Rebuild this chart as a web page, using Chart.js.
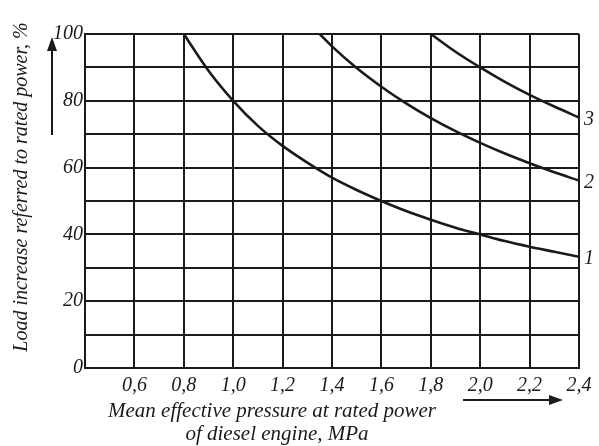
<!DOCTYPE html>
<html>
<head>
<meta charset="utf-8">
<script src="https://cdn.jsdelivr.net/npm/chart.js@4.4.1/dist/chart.umd.min.js"></script>
<style>
  html, body { margin: 0; padding: 0; background: #fff; }
  #wrap { width: 599px; height: 446px; }
</style>
</head>
<body>
<div id="wrap"><canvas id="chart" width="599" height="446"></canvas></div>
<script>
// curve 1
const pressure1 = [0.8, 0.9, 1.0, 1.1, 1.2, 1.3, 1.4, 1.5, 1.6, 1.7, 1.8, 1.9, 2.0, 2.1, 2.2, 2.3, 2.4];
const load1 = [100, 89, 80, 72.5, 66.5, 61.5, 57, 53.3, 50, 47, 44.4, 42, 40, 38, 36.3, 34.8, 33.3];
// curve 2
const pressure2 = [1.35, 1.4, 1.5, 1.6, 1.7, 1.8, 1.9, 2.0, 2.1, 2.2, 2.3, 2.4];
const load2 = [100, 96.3, 89.8, 84.2, 79.2, 74.8, 70.9, 67.4, 64.2, 61.3, 58.6, 56.1];
// curve 3
const pressure3 = [1.8, 1.9, 2.0, 2.1, 2.2, 2.3, 2.4];
const load3 = [100, 94.7, 90, 85.7, 81.8, 78.3, 75];

const curveLabels = ['1', '2', '3'];
const xTicks = [0.4, 0.6, 0.8, 1.0, 1.2, 1.4, 1.6, 1.8, 2.0, 2.2, 2.4];
const yTicks = [0, 10, 20, 30, 40, 50, 60, 70, 80, 90, 100];
const yLabelled = [0, 20, 40, 60, 80, 100];

const yTitle = 'Load increase referred to rated power, %';
const xTitle = ['Mean effective pressure at rated power', 'of diesel engine, MPa'];

const ink = '#1a1a1a';
const serif = '"Liberation Serif", "DejaVu Serif", serif';

function toPoints(xs, ys) {
    return xs.map((x, i) => ({ x: x, y: ys[i] }));
}

// arrows, curve numbers and axis titles
const decorPlugin = {
    id: 'decor',
    afterDraw(chart) {
        const ctx = chart.ctx;
        ctx.save();
        ctx.fillStyle = ink;
        ctx.strokeStyle = ink;

        // curve numbers at the right end of each curve
        ctx.font = 'italic 20px ' + serif;
        ctx.textAlign = 'left';
        ctx.textBaseline = 'middle';
        chart.data.datasets.forEach((ds, i) => {
            const meta = chart.getDatasetMeta(i);
            const last = meta.data[meta.data.length - 1];
            ctx.fillText(curveLabels[i], last.x + 5, last.y + 2);
        });

        // y title, rotated
        ctx.font = 'italic 20px ' + serif;
        ctx.textAlign = 'center';
        ctx.textBaseline = 'middle';
        ctx.save();
        ctx.translate(22, 187);
        ctx.rotate(-Math.PI / 2);
        ctx.fillText(yTitle, 0, 0);
        ctx.restore();

        // x title, two lines
        ctx.font = 'italic 21px ' + serif;
        ctx.fillText(xTitle[0], 272, 411);
        ctx.fillText(xTitle[1], 277, 434);

        // up arrow
        ctx.lineWidth = 2;
        ctx.beginPath();
        ctx.moveTo(52, 135);
        ctx.lineTo(52, 48);
        ctx.stroke();
        ctx.beginPath();
        ctx.moveTo(52, 37);
        ctx.lineTo(47, 51);
        ctx.lineTo(57, 51);
        ctx.closePath();
        ctx.fill();

        // right arrow
        ctx.beginPath();
        ctx.moveTo(463, 400);
        ctx.lineTo(552, 400);
        ctx.stroke();
        ctx.beginPath();
        ctx.moveTo(563, 400);
        ctx.lineTo(549, 395);
        ctx.lineTo(549, 405);
        ctx.closePath();
        ctx.fill();

        ctx.restore();
    }
};

const curveStyle = {
    borderColor: ink,
    borderWidth: 2.6,
    pointRadius: 0,
    fill: false,
    cubicInterpolationMode: 'monotone',
    showLine: true
};

new Chart(document.getElementById('chart'), {
    type: 'scatter',
    data: {
        datasets: [
            Object.assign({ label: curveLabels[0], data: toPoints(pressure1, load1) }, curveStyle),
            Object.assign({ label: curveLabels[1], data: toPoints(pressure2, load2) }, curveStyle),
            Object.assign({ label: curveLabels[2], data: toPoints(pressure3, load3) }, curveStyle)
        ]
    },
    options: {
        responsive: false,
        animation: false,
        layout: { padding: { top: 34, right: 20, left: 0, bottom: 0 } },
        plugins: {
            legend: { display: false },
            tooltip: { enabled: false }
        },
        scales: {
            x: {
                type: 'linear',
                min: xTicks[0],
                max: xTicks[xTicks.length - 1],
                afterBuildTicks: (scale) => { scale.ticks = xTicks.map(v => ({ value: v })); },
                afterFit: (scale) => { scale.height = 78; },
                grid: { color: ink, lineWidth: 2, drawTicks: false },
                border: { color: ink, width: 2 },
                ticks: {
                    padding: 6,
                    color: ink,
                    font: { family: serif, style: 'italic', size: 20 },
                    callback: (v) => Math.abs(v - xTicks[0]) < 1e-6 ? '' : v.toFixed(1).replace('.', ',')
                }
            },
            y: {
                min: yTicks[0],
                max: yTicks[yTicks.length - 1],
                afterBuildTicks: (scale) => { scale.ticks = yTicks.map(v => ({ value: v })); },
                afterFit: (scale) => { scale.width = 85; },
                grid: { color: ink, lineWidth: 2, drawTicks: false },
                border: { color: ink, width: 2 },
                ticks: {
                    padding: 2,
                    color: ink,
                    font: { family: serif, style: 'italic', size: 20 },
                    callback: (v) => yLabelled.includes(v) ? String(v) : ''
                }
            }
        }
    },
    plugins: [decorPlugin]
});
</script>
</body>
</html>
